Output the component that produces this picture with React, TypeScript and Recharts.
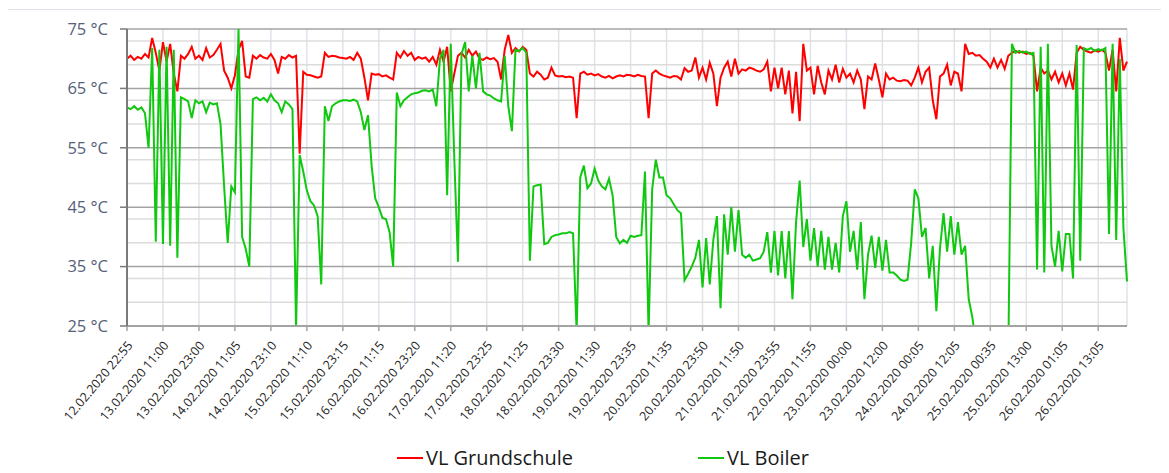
import React from 'react';
import { LineChart, Line, XAxis, YAxis, CartesianGrid } from 'recharts';

// x labels, one every 10 samples
const TICK_LABELS = [
  '12.02.2020 22:55', '13.02.2020 11:00', '13.02.2020 23:00', '14.02.2020 11:05',
  '14.02.2020 23:10', '15.02.2020 11:10', '15.02.2020 23:15', '16.02.2020 11:15',
  '16.02.2020 23:20', '17.02.2020 11:20', '17.02.2020 23:25', '18.02.2020 11:25',
  '18.02.2020 23:30', '19.02.2020 11:30', '19.02.2020 23:35', '20.02.2020 11:35',
  '20.02.2020 23:50', '21.02.2020 11:50', '21.02.2020 23:55', '22.02.2020 11:55',
  '23.02.2020 00:00', '23.02.2020 12:00', '24.02.2020 00:05', '24.02.2020 12:05',
  '25.02.2020 00:35', '25.02.2020 13:00', '26.02.2020 01:05', '26.02.2020 13:05',
];
const TICK_STEP = 10;
const LAST_SAMPLE = 278;

const Y_TICKS = [25, 35, 45, 55, 65, 75];
const Y_MINOR = [27, 29, 31, 33, 37, 39, 41, 43, 47, 49, 51, 53, 57, 59, 61, 63, 67, 69, 71, 73];

// VL Grundschule (°C)
const GRUNDSCHULE = [
  70.0, 70.5, 69.8, 70.3, 70.0, 70.8, 70.2, 73.5, 71.0, 68.0,
  72.8, 69.5, 72.5, 67.5, 64.5, 70.5, 70.0, 70.8, 72.0, 70.0,
  70.5, 69.8, 71.8, 70.2, 70.6, 71.5, 72.5, 68.0, 66.8, 65.0,
  67.2, 71.5, 73.0, 67.0, 66.8, 70.5, 70.0, 70.6, 70.2, 70.0,
  70.8, 69.8, 67.5, 70.3, 70.0, 70.6, 70.2, 70.5, 54.0, 67.8,
  67.3, 67.2, 67.0, 66.8, 67.0, 71.0, 70.3, 70.5, 70.4, 70.2,
  70.1, 70.0, 70.3, 69.8, 71.0, 70.0, 66.8, 63.0, 67.5, 67.3,
  67.4, 67.0, 67.2, 66.8, 66.5, 71.0, 70.2, 71.3, 70.5, 71.0,
  69.8, 70.3, 70.0, 70.2, 69.5, 70.3, 69.0, 71.5, 69.5, 72.0,
  64.5, 67.5, 70.5, 71.0, 70.2, 71.5, 70.5, 71.2, 70.0, 69.8,
  70.2, 69.9, 70.1, 69.5, 66.5, 71.5, 74.0, 71.0, 71.8, 71.2,
  72.0, 71.5, 67.5, 67.0, 67.8, 67.3, 66.5, 66.8, 68.5, 67.2,
  67.0, 67.1, 66.9, 67.0, 66.8, 60.0, 67.5, 67.8, 67.3, 67.5,
  67.2, 67.4, 67.0, 66.8, 67.1, 66.7, 67.0, 67.2, 67.0, 67.3,
  67.2, 67.0, 67.3, 67.1, 67.0, 60.0, 67.5, 68.0, 67.5, 67.2,
  67.0, 66.8, 67.1, 67.0, 66.5, 68.4, 67.8, 68.0, 70.2, 66.8,
  68.5, 66.5, 69.3, 67.5, 62.0, 66.8, 68.5, 69.5, 67.0, 70.0,
  67.5, 68.2, 68.0, 68.5, 68.3, 68.0, 67.8, 68.2, 69.5, 64.5,
  68.5, 65.0, 68.5, 64.0, 68.0, 60.8, 67.8, 59.5, 72.5, 68.0,
  68.5, 64.0, 68.8, 66.0, 64.0, 68.0, 66.5, 69.0, 66.0, 68.3,
  66.8, 67.5, 66.0, 68.0, 66.5, 61.5, 67.0, 66.5, 69.2, 66.5,
  63.5, 67.5, 66.5, 66.8, 66.3, 66.2, 66.4, 66.3, 65.5, 66.8,
  68.5, 66.0, 67.8, 68.5, 63.0, 59.8, 67.0, 67.5, 69.0, 65.5,
  67.8, 67.5, 64.5, 72.5, 70.8, 71.0, 70.5, 70.6, 70.0, 69.5,
  68.5, 70.0, 68.5, 69.8, 68.3, 70.5, 71.0, 71.3, 71.0, 71.2,
  70.8, 71.0, 70.5, 64.5, 68.5, 67.5, 68.0, 66.5, 67.8, 66.0,
  67.5, 65.5, 67.5, 64.8, 71.0, 72.0, 71.5, 71.2, 71.0, 71.4,
  71.2, 71.5, 71.0, 68.0, 71.5, 64.5, 73.5, 68.0, 69.5,
];

// VL Boiler (°C), values under 25 fall off the bottom of the plot
const BOILER = [
  61.8, 61.5, 62.0, 61.4, 61.8, 60.8, 55.0, 71.8, 39.2, 71.5,
  38.8, 72.0, 38.5, 71.5, 36.5, 63.5, 63.2, 62.8, 60.0, 63.0,
  62.5, 62.8, 61.0, 62.6, 62.3, 62.5, 59.0, 48.5, 39.0, 48.5,
  47.5, 75.0, 40.0, 38.0, 35.0, 63.2, 63.5, 63.0, 63.4, 62.8,
  64.0, 63.0, 62.5, 61.0, 62.8, 62.3, 61.5, 24.5, 53.8, 51.0,
  47.8, 46.0, 45.3, 43.5, 32.0, 62.0, 59.5, 62.0, 62.5, 62.8,
  63.0, 63.0, 62.9, 63.1, 62.8, 61.0, 58.0, 60.5, 52.0, 46.5,
  45.0, 43.2, 43.0, 40.8, 35.0, 64.3, 62.0, 63.0, 63.5, 64.0,
  64.2, 64.3, 64.6, 64.7, 64.5, 64.8, 62.0, 70.0, 71.5, 47.0,
  72.5, 53.0, 35.8, 70.8, 72.8, 64.5, 70.5, 65.0, 71.0, 64.5,
  64.0, 63.8, 63.3, 63.0, 62.8, 70.5, 62.0, 57.8, 71.5, 71.3,
  71.8, 71.0, 36.0, 48.5, 48.7, 48.8, 38.8, 39.0, 40.0, 40.3,
  40.4, 40.6, 40.6, 40.8, 40.6, 24.0, 50.0, 52.0, 48.2, 49.0,
  51.5, 49.5, 48.5, 48.0, 49.8, 47.0, 40.0, 38.9, 39.5, 39.0,
  40.2, 40.0, 40.2, 40.3, 51.0, 24.0, 48.0, 53.0, 50.0, 50.0,
  47.0, 46.5, 45.5, 44.5, 44.0, 32.7, 33.8, 35.0, 36.5, 39.5,
  31.5, 39.8, 32.0, 39.5, 43.5, 28.0, 43.8, 37.0, 45.0, 37.5,
  44.5, 37.0, 36.5, 37.0, 36.0, 36.2, 36.4, 37.5, 40.8, 34.0,
  41.0, 33.5, 41.0, 33.0, 41.0, 29.5, 42.5, 49.5, 38.3, 43.0,
  36.0, 41.5, 35.0, 41.0, 34.5, 40.0, 34.5, 39.0, 34.0, 43.5,
  46.0, 37.5, 41.0, 34.5, 42.5, 29.5, 37.0, 40.2, 34.8, 40.0,
  34.3, 39.5, 34.0, 34.0, 33.5, 32.8, 32.6, 32.8, 39.0, 48.0,
  46.5, 40.0, 41.5, 33.0, 38.5, 27.5, 38.0, 44.0, 37.5, 43.5,
  37.0, 42.5, 37.0, 38.5, 29.5, 26.5, 22.0, 20.0, 20.0, 20.0,
  20.0, 20.0, 20.0, 20.0, 20.0, 20.0, 72.5, 71.0, 71.3, 71.0,
  71.2, 70.8, 71.0, 34.5, 72.0, 34.0, 72.5, 38.5, 35.0, 41.0,
  34.2, 40.5, 40.5, 33.0, 72.3, 36.0, 71.8, 71.5, 71.8, 71.3,
  71.6, 71.4, 71.8, 40.5, 72.5, 39.5, 70.0, 41.5, 32.5,
];

const RED = '#ff0000';
const GREEN = '#10c810';

const data = GRUNDSCHULE.map((v, i) => ({ t: i, grundschule: v, boiler: BOILER[i] }));
const xTicks = TICK_LABELS.map((_, i) => i * TICK_STEP);

const XTick = ({ x, y, payload }: any) => {
  const label = TICK_LABELS[Math.round(payload.value / TICK_STEP)] ?? '';
  const ax = x + 3;
  const ay = y + 12;
  return (
    <text
      x={ax}
      y={ay}
      transform={`rotate(-50 ${ax} ${ay})`}
      textAnchor="end"
      dy="0.35em"
      fontSize={12.5}
      fontFamily="'Open Sans', sans-serif"
      fill="#262626"
    >
      {label}
    </text>
  );
};

const LegendItem = ({ color, label }: { color: string; label: string }) => (
  <div style={{ display: 'flex', alignItems: 'center' }}>
    <span style={{ display: 'inline-block', width: 26, height: 2, background: color }} />
    <span style={{ marginLeft: 3 }}>{label}</span>
  </div>
);

export default function App() {
  return (
    <div style={{ position: 'relative', width: 1161, height: 465 }}>
      <div
        style={{
          position: 'absolute', left: -1, top: 1, right: -8, bottom: -8,
          borderTop: '1px solid #dde2e8', borderLeft: '1px solid #dde2e8',
        }}
      />
      <LineChart
        width={1161}
        height={465}
        data={data}
        margin={{ top: 21, right: 42, bottom: 27, left: 0 }}
        style={{ position: 'absolute', left: 0, top: 0 }}
      >
        <CartesianGrid horizontal={false} stroke="#dfe4eb" strokeWidth={1.5} />
        <CartesianGrid vertical={false} horizontalValues={Y_MINOR} stroke="#dcdcdc" strokeWidth={1.5} />
        <CartesianGrid vertical={false} horizontalValues={Y_TICKS} stroke="#a3a3a3" strokeWidth={1.5} />
        <XAxis
          dataKey="t"
          type="number"
          domain={[0, LAST_SAMPLE]}
          ticks={xTicks}
          interval={0}
          height={120}
          tick={<XTick />}
          tickSize={5}
          tickMargin={0}
          axisLine={{ stroke: '#a3a3a3', strokeWidth: 2 }}
          tickLine={{ stroke: '#a3a3a3', strokeWidth: 1.5 }}
        />
        <YAxis
          domain={[25, 75]}
          ticks={Y_TICKS}
          allowDataOverflow
          width={119}
          tickSize={7}
          tickMargin={12}
          tickFormatter={(v: number) => `${v} °C`}
          tick={{ fontSize: 16.5, fill: '#56617a', fontFamily: "'Open Sans', sans-serif" }}
          axisLine={{ stroke: '#7a7a7a', strokeWidth: 2 }}
          tickLine={{ stroke: '#7a7a7a', strokeWidth: 1.5 }}
        />
        <Line
          type="linear"
          dataKey="grundschule"
          stroke={RED}
          strokeWidth={2}
          dot={false}
          isAnimationActive={false}
        />
        <Line
          type="linear"
          dataKey="boiler"
          stroke={GREEN}
          strokeWidth={2}
          dot={false}
          isAnimationActive={false}
        />
      </LineChart>
      <div
        style={{
          position: 'absolute', left: 389, top: 436, display: 'flex', gap: 125,
          fontFamily: "'Open Sans', sans-serif", fontSize: 20, color: '#1a1a1a', lineHeight: '28px',
        }}
      >
        <LegendItem color={RED} label="VL Grundschule" />
        <LegendItem color={GREEN} label="VL Boiler" />
      </div>
    </div>
  );
}
